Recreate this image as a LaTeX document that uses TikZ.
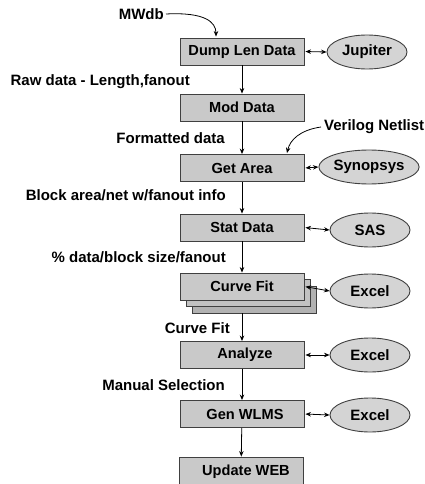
\documentclass[tikz,border=0pt]{standalone}
\usepackage{fontspec}
\setmainfont{Liberation Sans}
\usetikzlibrary{shapes.geometric,arrows.meta}
\begin{document}
\begin{tikzpicture}[x=1pt,y=-1pt,
  every node/.style={font=\fontsize{14.6}{17}\selectfont\bfseries},
  proc/.style={draw=black!75,fill=black!21,line width=0.9pt,minimum width=124pt,minimum height=27pt,inner sep=0pt},
  tool/.style={ellipse,draw=black!75,fill=black!17,line width=0.9pt,minimum width=80pt,minimum height=34pt,inner sep=0pt,
    font=\fontsize{15}{17}\selectfont\bfseries},
  tip/.tip={Stealth[length=5.5pt,width=4.5pt]},
  flow/.style={-tip,line width=0.8pt},
  link/.style={tip-tip,line width=0.8pt,shorten <=1pt},
  lbl/.style={inner sep=0pt,font=\fontsize{15}{17}\selectfont\bfseries}
]
\useasboundingbox (0,0) rectangle (425,484);

% process boxes
\node[proc] (dump) at (242,51.5) {Dump Len Data};
\node[proc] (mod)  at (242,107.5) {Mod Data};
\node[proc] (ga)   at (242,168) {Get Area};
\node[proc] (stat) at (242,227.5) {Stat Data};
\node[proc,fill=black!30] (cf3) at (254,299.5) {};
\node[proc,fill=black!24] (cf2) at (248,293) {};
\node[proc] (cf)   at (242,286.5) {Curve Fit};
\node[proc] (ana)  at (242,355) {\hspace*{6pt}Analyze};
\node[proc] (gen)  at (242,414) {\hspace*{6pt}Gen WLMS};
\node[proc,minimum height=29pt] (web) at (241,471.5) {\hspace*{10pt}Update WEB};

% tools
\node[tool] (jup)  at (367,52) {Jupiter};
\node[tool] (syn)  at (369,167) {Synopsys};
\node[tool] (sas)  at (370,230) {SAS};
\node[tool] (xl1)  at (370,291) {Excel};
\node[tool] (xl2)  at (370,355) {Excel};
\node[tool] (xl3)  at (370,415) {Excel};

% data labels
\node[lbl,anchor=east] (mw) at (164,14) {MWdb};
\node[lbl,anchor=east] (raw) at (190,82) {Raw data - Length,fanout};
\node[lbl,anchor=east] (fmt) at (225,138) {Formatted data};
\node[lbl,anchor=west] (vn) at (324,127) {Verilog Netlist};
\node[lbl,anchor=east] (blk) at (226,195) {Block area/net w/fanout info};
\node[lbl,anchor=east] (pct) at (226,257) {\% data/block size/fanout};
\node[lbl,anchor=east] (cfl) at (230,328) {Curve Fit};
\node[lbl,anchor=east] (man) at (225,385) {Manual Selection};

% main flow
\draw[flow] (dump) -- (mod);
\draw[flow] (mod) -- (ga);
\draw[flow] (ga) -- (stat);
\draw[flow] (stat) -- (cf);
\draw[flow] (cf.south |- cf3.south) -- (ana.north);
\draw[flow] (ana) -- (gen);
\draw[flow] (gen) -- (web);

% inputs
\draw[flow] ([xshift=2pt]mw.east) .. controls (205,12) and (216,22) .. ([xshift=-26pt,yshift=1pt]dump.north);
\draw[flow] ([xshift=-3pt]vn.west) .. controls (300,130) and (290,140) .. ([xshift=45pt,yshift=1pt]ga.north);

% tool links
\draw[link] (dump.east) -- (jup.west);
\draw[link] (ga.east) -- (syn.west);
\draw[link] (stat.east) -- (sas.west);
\draw[link] (cf.east) -- (xl1.west);
\draw[link] (ana.east) -- (xl2.west);
\draw[link] (gen.east) -- (xl3.west);
\end{tikzpicture}
\end{document}
